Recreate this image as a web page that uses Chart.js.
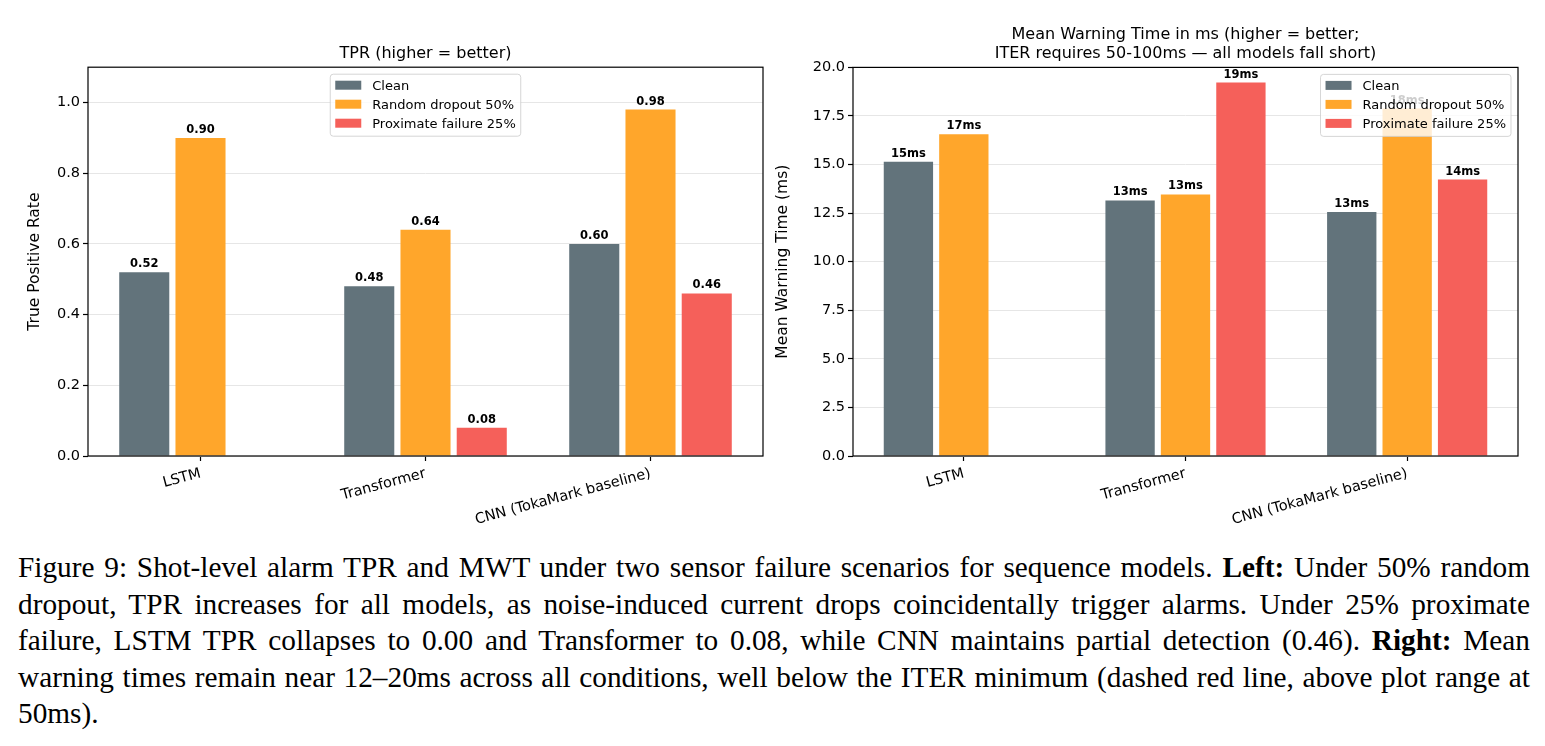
<!DOCTYPE html>
<html>
<head>
<meta charset="utf-8">
<script src="https://cdn.jsdelivr.net/npm/chart.js@4.4.1/dist/chart.umd.min.js"></script>
<style>
  html, body { margin: 0; padding: 0; background: #fff; }
  body { width: 1545px; height: 746px; position: relative; overflow: hidden; }
  #tpr { position: absolute; left: 0; top: 0; }
  #mwt { position: absolute; left: 770px; top: 0; }
  #caption {
    position: absolute; left: 18px; top: 549px; width: 1512px;
    font-family: "Liberation Serif", "Times New Roman", serif;
    font-size: 29.3px; line-height: 36.5px; color: #000;
  }
  #caption .ln { text-align: justify; text-align-last: justify; white-space: nowrap; }
  #caption .last { text-align: left; }
</style>
</head>
<body>
<canvas id="tpr" width="770" height="530"></canvas>
<canvas id="mwt" width="775" height="530"></canvas>
<div id="caption">
  <div class="ln">Figure 9: Shot-level alarm TPR and MWT under two sensor failure scenarios for sequence models. <b>Left:</b> Under 50% random</div>
  <div class="ln">dropout, TPR increases for all models, as noise-induced current drops coincidentally trigger alarms. Under 25% proximate</div>
  <div class="ln">failure, LSTM TPR collapses to 0.00 and Transformer to 0.08, while CNN maintains partial detection (0.46). <b>Right:</b> Mean</div>
  <div class="ln">warning times remain near 12–20ms across all conditions, well below the ITER minimum (dashed red line, above plot range at</div>
  <div class="last">50ms).</div>
</div>
<script>
// data
const models = ["LSTM", "Transformer", "CNN (TokaMark baseline)"];
const scenarios = ["Clean", "Random dropout 50%", "Proximate failure 25%"];
const colors = ["#62737b", "#ffa62b", "#f5605a"];

const tprClean = [0.52, 0.48, 0.60];
const tprDropout = [0.90, 0.64, 0.98];
const tprProximate = [0.00, 0.08, 0.46];

const mwtClean = [15.15, 13.15, 12.56];
const mwtDropout = [16.56, 13.46, 17.88];
const mwtProximate = [0, 19.22, 14.23];

Chart.defaults.font.family = '"DejaVu Sans", sans-serif';
Chart.defaults.color = "#000";

// value labels + box frame + matplotlib-ish legend inside the axes
function overlay(format, legendPos) {
  return {
    id: "overlay",
    afterDatasetsDraw(chart) {
      const ctx = chart.ctx;
      const a = chart.chartArea;
      ctx.save();
      // frame (all four spines)
      ctx.strokeStyle = "#000";
      ctx.lineWidth = 1.2;
      ctx.strokeRect(a.left, a.top, a.right - a.left, a.bottom - a.top);

      // value labels
      ctx.font = 'bold 11.5px "DejaVu Sans"';
      ctx.fillStyle = "#000";
      ctx.textAlign = "center";
      ctx.textBaseline = "alphabetic";
      chart.data.datasets.forEach((ds, i) => {
        chart.getDatasetMeta(i).data.forEach((bar, j) => {
          const v = ds.data[j];
          if (!v) return;
          ctx.fillText(format(v), bar.x, bar.y - 5);
        });
      });

      // legend
      ctx.font = '13px "DejaVu Sans"';
      const names = chart.data.datasets.map(d => d.label);
      const w = Math.max(...names.map(n => ctx.measureText(n).width)) + 47;
      const h = 62;
      const x = legendPos === "center" ? (a.left + a.right) / 2 - w / 2 : a.right - 7 - w;
      const y = a.top + 7;
      ctx.beginPath();
      ctx.roundRect(x, y, w, h, 3);
      ctx.fillStyle = "rgba(255,255,255,0.8)";
      ctx.fill();
      ctx.strokeStyle = "rgba(204,204,204,0.8)";
      ctx.lineWidth = 1;
      ctx.stroke();
      ctx.textAlign = "left";
      ctx.textBaseline = "middle";
      chart.data.datasets.forEach((d, i) => {
        const cy = y + 11 + i * 19;
        ctx.fillStyle = d.backgroundColor;
        ctx.fillRect(x + 5, cy - 4.5, 26, 9);
        ctx.fillStyle = "#000";
        ctx.fillText(d.label, x + 42, cy + 1);
      });
      ctx.restore();
    }
  };
}

function makeChart(id, series, o) {
  return new Chart(document.getElementById(id), {
    type: "bar",
    data: {
      labels: models,
      datasets: series.map((s, i) => ({
        label: scenarios[i],
        data: s,
        backgroundColor: colors[i],
        borderWidth: 0,
        categoryPercentage: 0.75,
        barPercentage: 0.89
      }))
    },
    options: {
      responsive: false,
      animation: false,
      events: [],
      layout: { padding: o.padding },
      plugins: {
        legend: { display: false },
        tooltip: { enabled: false },
        title: {
          display: true,
          fullSize: false,
          text: o.title,
          color: "#000",
          font: { size: 16, weight: "normal" },
          padding: o.titlePadding
        }
      },
      scales: {
        x: {
          afterFit: s => { s.height = 74; },
          border: { display: false },
          grid: {
            drawOnChartArea: false, drawTicks: true, offset: false,
            tickLength: 5, tickColor: "#000", tickWidth: 1.2
          },
          ticks: {
            autoSkip: false, minRotation: 15, maxRotation: 15,
            padding: 4, font: { size: 14.5 }, color: "#000"
          }
        },
        y: {
          min: 0,
          max: o.yMax,
          afterFit: s => { s.width = o.yWidth; },
          border: { display: false },
          grid: {
            color: "#e6e6e6", lineWidth: 1,
            tickLength: 5, tickColor: "#000", tickWidth: 1.2
          },
          ticks: {
            stepSize: o.step, includeBounds: false,
            padding: 3, font: { size: 14.5 }, color: "#000",
            callback: v => Number(v).toFixed(1)
          },
          title: {
            display: true, text: o.yLabel, color: "#000",
            font: { size: 15.5 }
          }
        }
      }
    },
    plugins: [overlay(o.format, o.legendPos)]
  });
}

makeChart("tpr", [tprClean, tprDropout, tprProximate], {
  title: "TPR (higher = better)",
  titlePadding: { top: 44, bottom: 4 },
  padding: { left: 22, right: 7, top: 0, bottom: 0 },
  yWidth: 66,
  yMax: 1.1,
  step: 0.2,
  yLabel: "True Positive Rate",
  format: v => v.toFixed(2),
  legendPos: "center"
});

makeChart("mwt", [mwtClean, mwtDropout, mwtProximate], {
  title: ["Mean Warning Time in ms (higher = better;", "ITER requires 50-100ms \u2014 all models fall short)"],
  titlePadding: { top: 25, bottom: 4 },
  padding: { left: 0, right: 27, top: 0, bottom: 0 },
  yWidth: 83,
  yMax: 20,
  step: 2.5,
  yLabel: "Mean Warning Time (ms)",
  format: v => Math.round(v) + "ms",
  legendPos: "right"
});
</script>
</body>
</html>
